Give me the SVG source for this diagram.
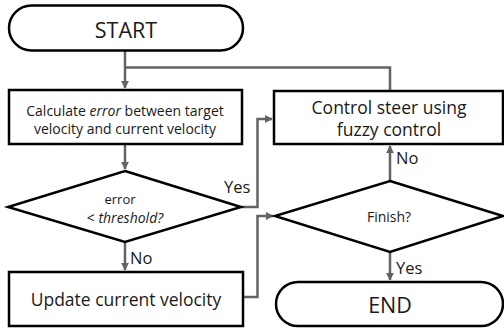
<svg xmlns="http://www.w3.org/2000/svg" width="504" height="329" viewBox="0 0 504 329">
<defs>
<marker id="arr" viewBox="0 0 10 10" refX="9" refY="5" markerWidth="3.2" markerHeight="3.2" orient="auto" markerUnits="strokeWidth">
<path d="M0,0 L10,5 L0,10 z" fill="#636363"/>
</marker>
<style>
.shape{fill:#fff;stroke:#000;stroke-width:2.5}
.t{font-family:"Open Sans","Noto Sans","DejaVu Sans",sans-serif;fill:#1a1a1a;text-anchor:middle;dominant-baseline:central}
.c{fill:none;stroke:#636363;stroke-width:2.5}
.lbl{font-family:"Open Sans","Noto Sans","DejaVu Sans",sans-serif;fill:#1a1a1a;font-size:16.5px}
</style>
</defs>
<rect width="504" height="329" fill="#fff"/>
<g id="connectors">
<path class="c" d="M125,51 V88" marker-end="url(#arr)"/>
<path class="c" d="M390,91 V67.5 H125"/>
<path class="c" d="M125,144 V169" marker-end="url(#arr)"/>
<path class="c" d="M241,207 H257.5 V119 H272" marker-end="url(#arr)"/>
<path class="c" d="M125,242 V270" marker-end="url(#arr)"/>
<path class="c" d="M243,297 H257.5 V216 H273" marker-end="url(#arr)"/>
<path class="c" d="M390,181 V146" marker-end="url(#arr)"/>
<path class="c" d="M390,252 V280" marker-end="url(#arr)"/>
<text class="lbl" x="224" y="193">Yes</text>
<text class="lbl" x="130" y="264">No</text>
<text class="lbl" x="396" y="164">No</text>
<text class="lbl" x="396" y="274">Yes</text>
</g>
<g id="start">
<rect class="shape" x="9" y="5.5" width="234" height="45" rx="22.5"/>
<text class="t" x="126" y="29" font-size="21.5">START</text>
</g>
<g id="calc">
<rect class="shape" x="9" y="90" width="233" height="54"/>
<text class="t" x="125" y="110" font-size="14">Calculate <tspan font-style="italic">error</tspan> between target</text>
<text class="t" x="125" y="128" font-size="14">velocity and current velocity</text>
</g>
<g id="decision1">
<polygon class="shape" points="125,171 241,207 125,242 8,207"/>
<text class="t" x="120" y="199" font-size="13">error</text>
<text class="t" x="125" y="217" font-size="14">&lt;  <tspan font-style="italic">threshold?</tspan></text>
</g>
<g id="update">
<rect class="shape" x="9" y="272" width="234" height="54"/>
<text class="t" x="126" y="299" font-size="17.5">Update current velocity</text>
</g>
<g id="control">
<rect class="shape" x="274" y="91" width="229" height="53"/>
<text class="t" x="389" y="107" font-size="17.5">Control steer using</text>
<text class="t" x="389" y="129" font-size="17.5">fuzzy control</text>
</g>
<g id="decision2">
<polygon class="shape" points="390,181 503,216 390,252 275,216"/>
<text class="t" x="389" y="216" font-size="14">Finish?</text>
</g>
<g id="end">
<rect class="shape" x="276" y="282" width="227" height="44" rx="22"/>
<text class="t" x="390" y="304" font-size="21.5">END</text>
</g>
</svg>
